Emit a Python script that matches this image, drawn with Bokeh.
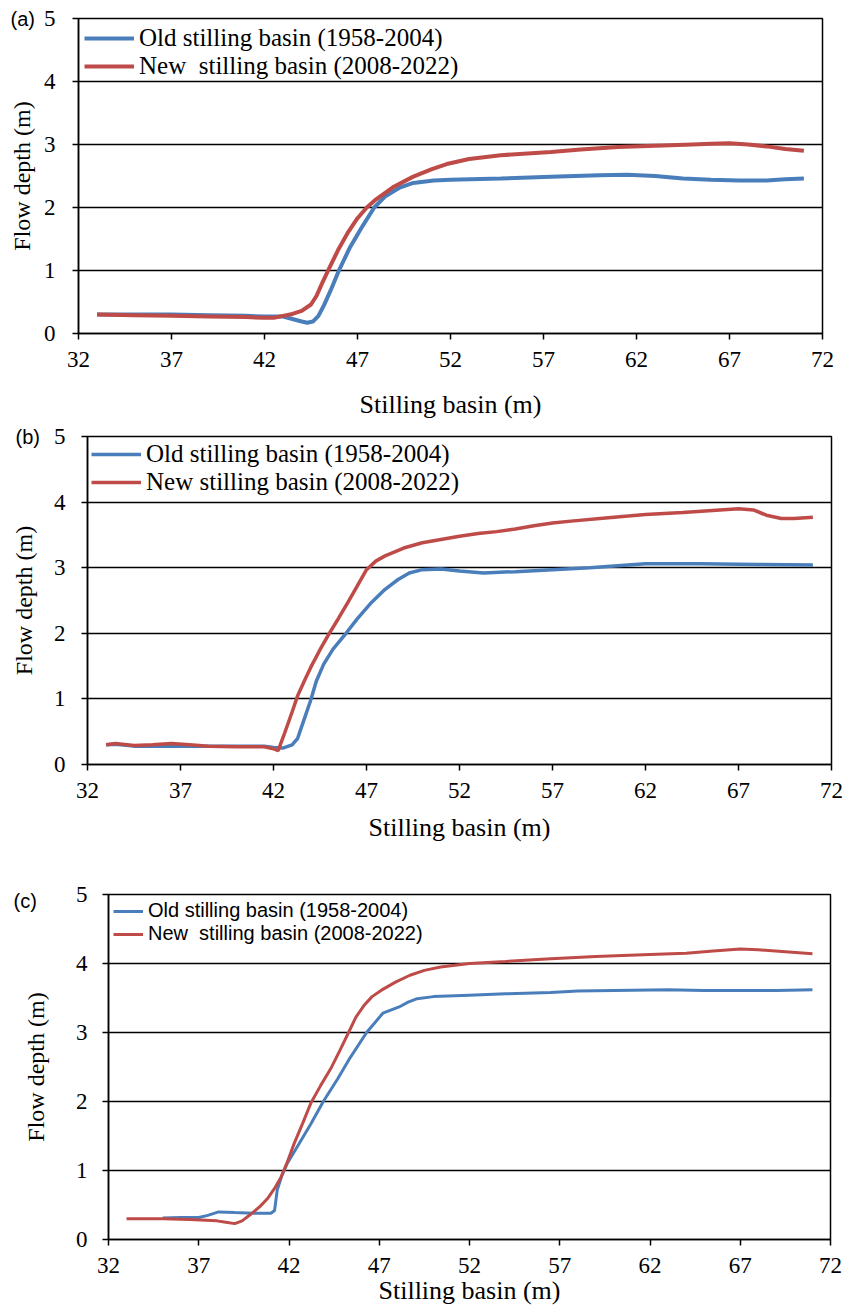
from bokeh.plotting import figure
from bokeh.models import FixedTicker, Range1d, Title
from bokeh.embed import file_html
from bokeh.resources import INLINE

# ---- axis ticks and series labels ----
X_TICKS = [32, 37, 42, 47, 52, 57, 62, 67, 72]
Y_TICKS = [0, 1, 2, 3, 4, 5]
OLD_LABEL = "Old stilling basin (1958-2004)"
NEW_LABEL_WIDE = "New\u00a0 stilling basin (2008-2022)"
NEW_LABEL = "New stilling basin (2008-2022)"

# ---- (a) ----
a_old_x = [33, 35, 37, 39, 41, 42, 43, 43.5, 44, 44.3, 44.6, 44.9, 45.2, 45.55, 46.0, 46.6,
           47.2, 47.9, 48.5, 49.3, 50, 51.1, 52, 54.7, 57.4, 60, 61.5, 63, 64.5, 66, 67.5,
           69, 70, 71]
a_old_y = [0.30, 0.30, 0.30, 0.29, 0.28, 0.27, 0.27, 0.23, 0.19, 0.17, 0.19, 0.28, 0.45,
           0.68, 1.00, 1.37, 1.67, 2.00, 2.18, 2.32, 2.39, 2.43, 2.44, 2.46, 2.49, 2.51, 2.52,
           2.50, 2.46, 2.44, 2.43, 2.43, 2.45, 2.46]
a_new_x = [33, 35, 37, 39, 41, 42, 42.5, 43, 43.5, 44, 44.5, 44.8, 45.1, 45.5, 46, 46.5, 47,
           47.5, 48, 48.9, 50, 51, 51.8, 53, 54.7, 57.4, 59, 61, 63, 65, 66, 67, 68, 69, 70,
           71]
a_new_y = [0.30, 0.29, 0.28, 0.27, 0.26, 0.25, 0.25, 0.28, 0.31, 0.36, 0.46, 0.60, 0.80,
           1.05, 1.35, 1.61, 1.83, 2.00, 2.13, 2.32, 2.49, 2.61, 2.69, 2.77, 2.83, 2.88, 2.92,
           2.96, 2.98, 3.00, 3.01, 3.02, 3.00, 2.97, 2.93, 2.90]

# ---- (b) ----
b_old_x = [33, 33.5, 34.5, 36, 37.5, 39, 40.5, 41.5, 42, 42.5, 43, 43.3, 43.6, 44, 44.3,
           44.7, 45.2, 45.9, 46.5, 47.2, 48, 48.7, 49.3, 50, 51, 52, 53.3, 55, 57, 59, 60.5,
           62, 65, 68, 71]
b_old_y = [0.30, 0.31, 0.28, 0.28, 0.28, 0.28, 0.28, 0.28, 0.26, 0.25, 0.30, 0.40, 0.65,
           0.98, 1.27, 1.53, 1.76, 2.00, 2.22, 2.45, 2.67, 2.82, 2.92, 2.97, 2.98, 2.95, 2.92,
           2.94, 2.97, 3.00, 3.03, 3.06, 3.06, 3.05, 3.04]
b_new_x = [33, 33.5, 34.5, 35.5, 36.5, 37.5, 38.5, 40, 41.5, 42, 42.25, 42.6, 43, 43.3,
           43.7, 44, 44.5, 45, 45.5, 46, 46.5, 47, 47.5, 48, 49, 50, 51, 52, 53, 54, 55, 56,
           57, 58, 60, 62, 64, 66, 67, 67.8, 68.5, 69.3, 70, 71]
b_new_y = [0.30, 0.32, 0.29, 0.30, 0.32, 0.30, 0.28, 0.27, 0.27, 0.24, 0.21, 0.48, 0.80,
           1.05, 1.30, 1.48, 1.75, 2.00, 2.23, 2.47, 2.72, 2.97, 3.10, 3.18, 3.30, 3.38, 3.43,
           3.48, 3.52, 3.55, 3.59, 3.64, 3.68, 3.71, 3.76, 3.81, 3.84, 3.88, 3.90, 3.88, 3.80,
           3.75, 3.75, 3.77]

# ---- (c) ----
c_old_x = [35, 36, 37, 37.5, 38.1, 39, 40, 41, 41.2, 41.35, 41.6, 41.9, 42.45, 43.2, 43.9,
           44.7, 45.4, 46.3, 47.2, 47.6, 48.1, 48.6, 49.1, 50, 52, 54, 56.5, 58, 60, 63, 65,
           67, 69, 71]
c_old_y = [0.31, 0.32, 0.32, 0.35, 0.40, 0.39, 0.38, 0.38, 0.42, 0.72, 0.92, 1.10, 1.34,
           1.67, 2.00, 2.33, 2.64, 3.00, 3.28, 3.32, 3.37, 3.44, 3.49, 3.52, 3.54, 3.56, 3.58,
           3.60, 3.61, 3.62, 3.61, 3.61, 3.61, 3.62]
c_new_x = [33, 35, 36.5, 38, 38.5, 39, 39.4, 39.9, 40.4, 40.8, 41.2, 41.55, 41.9, 42.3,
           42.75, 43.2, 43.75, 44.3, 44.8, 45.3, 45.7, 46.15, 46.6, 47.1, 47.9, 48.7, 49.5,
           50.4, 52, 54, 56.5, 59, 62, 64, 65.5, 67, 68, 69.5, 71]
c_new_y = [0.30, 0.30, 0.29, 0.27, 0.25, 0.23, 0.27, 0.37, 0.48, 0.59, 0.74, 0.90, 1.12,
           1.40, 1.68, 1.97, 2.23, 2.47, 2.73, 3.00, 3.22, 3.39, 3.52, 3.61, 3.73, 3.83, 3.90,
           3.95, 4.00, 4.03, 4.07, 4.10, 4.13, 4.15, 4.18, 4.21, 4.20, 4.17, 4.14]

BLUE = "#4a7ebb"
RED = "#be4b48"
SERIF = "Liberation Serif"
SANS = "Liberation Sans"


def make_panel(tag, tag_offset, tag_standoff, old, new, new_label, height, left, right,
               top, frame_h, line_w, legend_font, legend_size, legend_spacing, glyph_w,
               legend_margin, y_tick_standoff, y_label_standoff, x_label_standoff):
    p = figure(width=845, height=height, output_backend="svg", toolbar_location=None,
               x_range=Range1d(32, 72), y_range=Range1d(0, 5),
               min_border_left=left, min_border_right=right, min_border_top=top,
               min_border_bottom=height - top - frame_h,
               background_fill_color="white", border_fill_color="white")
    p.line(old[0], old[1], color=BLUE, line_width=line_w, legend_label=OLD_LABEL)
    p.line(new[0], new[1], color=RED, line_width=line_w, legend_label=new_label)

    p.xaxis.ticker = FixedTicker(ticks=X_TICKS)
    p.yaxis.ticker = FixedTicker(ticks=Y_TICKS)
    p.xaxis.axis_label = "Stilling basin (m)"
    p.yaxis.axis_label = "Flow depth (m)"
    for ax in (p.xaxis, p.yaxis):
        ax.axis_line_color = "black"
        ax.axis_line_width = 1.5
        ax.major_tick_line_color = "black"
        ax.major_tick_line_width = 1.5
        ax.major_tick_out = 6
        ax.major_tick_in = 0
        ax.minor_tick_line_color = None
        ax.major_label_text_font = SERIF
        ax.major_label_text_font_size = "23px"
        ax.major_label_text_color = "black"
        ax.axis_label_text_font = SERIF
        ax.axis_label_text_font_style = "normal"
        ax.axis_label_text_color = "black"
    p.xaxis.axis_label_text_font_size = "26px"
    p.yaxis.axis_label_text_font_size = "24px"
    p.xaxis.major_label_standoff = 12
    p.yaxis.major_label_standoff = y_tick_standoff
    p.xaxis.axis_label_standoff = x_label_standoff
    p.yaxis.axis_label_standoff = y_label_standoff

    p.xgrid.grid_line_color = None
    p.ygrid.grid_line_color = "black"
    p.ygrid.grid_line_width = 1.5
    p.outline_line_color = "black"
    p.outline_line_width = 1.5
    p.outline_line_alpha = 1

    lg = p.legend[0]
    lg.location = "top_left"
    lg.margin = legend_margin
    lg.padding = 0
    lg.spacing = legend_spacing
    lg.glyph_width = glyph_w
    lg.glyph_height = 20
    lg.label_height = 20
    lg.label_standoff = 5
    lg.label_text_font = legend_font
    lg.label_text_font_size = legend_size
    lg.label_text_color = "black"
    lg.border_line_color = None
    lg.background_fill_alpha = 0

    # panel tag "(a)", "(b)", "(c)" at the upper left, beside the top tick label
    p.add_layout(Title(text=tag, align="left", offset=tag_offset, standoff=tag_standoff,
                       vertical_align="bottom", text_font=SANS, text_font_size="20px",
                       text_font_style="normal", text_color="black"), "above")
    return p


pa = make_panel("(a)", -68, -23, (a_old_x, a_old_y), (a_new_x, a_new_y), NEW_LABEL_WIDE,
                424, 78, 23, 18, 315, 4, SERIF, "25px", -4, 50, 6, 17, 6, 20)
pb = make_panel("(b)", -72, -23, (b_old_x, b_old_y), (b_new_x, b_new_y), NEW_LABEL,
                446, 87, 14, 12, 328, 3.5, SERIF, "25px", -4, 50, 4, 16, 14, 12)
pc = make_panel("(c)", -95, -35, (c_old_x, c_old_y), (c_new_x, c_new_y), NEW_LABEL_WIDE,
                437, 108, 15, 24, 345, 3, SANS, "20px", 0, 30, 5, 15, 24, 0)

# three independent roots stacked in the page, each keeping its own frame geometry
open("out.html", "w").write(file_html([pa, pb, pc], INLINE))
